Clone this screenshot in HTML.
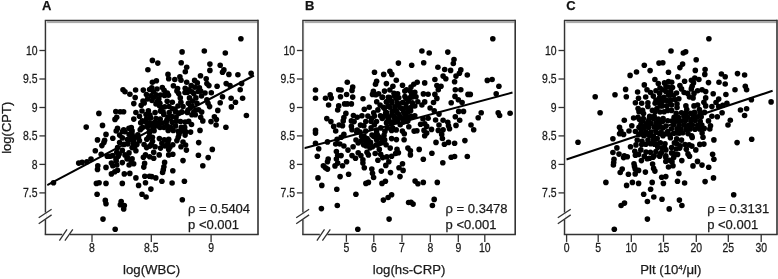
<!DOCTYPE html>
<html><head><meta charset="utf-8"><style>
html,body{margin:0;padding:0;background:#fff;}
body{width:778px;height:279px;overflow:hidden;}
svg{display:block;will-change:transform;}
text{font-family:"Liberation Sans",sans-serif;fill:#1a1a1a;stroke:#1a1a1a;stroke-width:0.25px;}
</style></head><body>
<svg width="778" height="279" viewBox="0 0 778 279">
<text x="42.0" y="10.4" font-size="13" font-weight="bold" style="fill:#111">A</text>
<line x1="47.2" y1="185.1" x2="254" y2="75.5" stroke="#000" stroke-width="2"/>
<g fill="#000"><circle cx="152.4" cy="60.4" r="2.8"/><circle cx="157.8" cy="63.1" r="2.8"/><circle cx="181.2" cy="62.7" r="2.8"/><circle cx="186.7" cy="67.2" r="2.8"/><circle cx="185.3" cy="71.7" r="2.8"/><circle cx="209.9" cy="64.1" r="2.8"/><circle cx="209.9" cy="70.4" r="2.8"/><circle cx="220.2" cy="65.2" r="2.8"/><circle cx="223.9" cy="69.9" r="2.8"/><circle cx="222.5" cy="72.3" r="2.8"/><circle cx="228.9" cy="74.4" r="2.8"/><circle cx="237.9" cy="74.7" r="2.8"/><circle cx="251.1" cy="73.3" r="2.8"/><circle cx="168.0" cy="74.4" r="2.8"/><circle cx="168.7" cy="78.8" r="2.8"/><circle cx="174.8" cy="79.5" r="2.8"/><circle cx="179.9" cy="76.8" r="2.8"/><circle cx="181.0" cy="80.2" r="2.8"/><circle cx="186.7" cy="82.2" r="2.8"/><circle cx="200.5" cy="75.8" r="2.8"/><circle cx="206.2" cy="78.8" r="2.8"/><circle cx="194.6" cy="80.4" r="2.8"/><circle cx="197.3" cy="82.9" r="2.8"/><circle cx="206.9" cy="83.6" r="2.8"/><circle cx="208.9" cy="85.6" r="2.8"/><circle cx="156.4" cy="80.8" r="2.8"/><circle cx="152.4" cy="82.2" r="2.8"/><circle cx="162.3" cy="87.5" r="2.8"/><circle cx="164.1" cy="90.3" r="2.8"/><circle cx="173.4" cy="85.8" r="2.8"/><circle cx="177.6" cy="88.5" r="2.8"/><circle cx="191.2" cy="85.6" r="2.8"/><circle cx="189.1" cy="89.7" r="2.8"/><circle cx="199.4" cy="87.7" r="2.8"/><circle cx="200.7" cy="91.1" r="2.8"/><circle cx="211.3" cy="92.7" r="2.8"/><circle cx="217.1" cy="86.3" r="2.8"/><circle cx="226.2" cy="83.6" r="2.8"/><circle cx="230.0" cy="85.6" r="2.8"/><circle cx="241.6" cy="83.6" r="2.8"/><circle cx="240.2" cy="89.7" r="2.8"/><circle cx="153.3" cy="91.8" r="2.8"/><circle cx="176.9" cy="91.1" r="2.8"/><circle cx="191.9" cy="91.7" r="2.8"/><circle cx="167.3" cy="93.1" r="2.8"/><circle cx="240.9" cy="38.7" r="2.8"/><circle cx="182.1" cy="51.9" r="2.8"/><circle cx="204.3" cy="51.0" r="2.8"/><circle cx="225.3" cy="53.0" r="2.8"/><circle cx="147.9" cy="69.7" r="2.8"/><circle cx="123.0" cy="89.7" r="2.8"/><circle cx="125.0" cy="91.7" r="2.8"/><circle cx="129.9" cy="94.2" r="2.8"/><circle cx="135.6" cy="90.0" r="2.8"/><circle cx="143.3" cy="90.1" r="2.8"/><circle cx="149.6" cy="89.5" r="2.8"/><circle cx="135.2" cy="97.6" r="2.8"/><circle cx="133.8" cy="103.6" r="2.8"/><circle cx="141.2" cy="105.3" r="2.8"/><circle cx="144.2" cy="102.9" r="2.8"/><circle cx="146.4" cy="94.5" r="2.8"/><circle cx="150.9" cy="95.7" r="2.8"/><circle cx="115.8" cy="111.6" r="2.8"/><circle cx="120.2" cy="111.8" r="2.8"/><circle cx="123.6" cy="111.8" r="2.8"/><circle cx="98.9" cy="113.4" r="2.8"/><circle cx="116.7" cy="117.2" r="2.8"/><circle cx="115.0" cy="119.4" r="2.8"/><circle cx="135.9" cy="112.5" r="2.8"/><circle cx="139.5" cy="116.3" r="2.8"/><circle cx="142.0" cy="111.0" r="2.8"/><circle cx="148.4" cy="110.9" r="2.8"/><circle cx="133.8" cy="119.1" r="2.8"/><circle cx="140.7" cy="122.8" r="2.8"/><circle cx="145.3" cy="121.8" r="2.8"/><circle cx="150.6" cy="117.9" r="2.8"/><circle cx="86.2" cy="127.1" r="2.8"/><circle cx="102.5" cy="125.4" r="2.8"/><circle cx="117.5" cy="128.4" r="2.8"/><circle cx="123.7" cy="129.8" r="2.8"/><circle cx="131.3" cy="127.5" r="2.8"/><circle cx="141.4" cy="128.4" r="2.8"/><circle cx="147.5" cy="127.1" r="2.8"/><circle cx="150.9" cy="124.3" r="2.8"/><circle cx="222.5" cy="96.8" r="2.8"/><circle cx="231.1" cy="98.2" r="2.8"/><circle cx="242.6" cy="98.2" r="2.8"/><circle cx="235.5" cy="102.3" r="2.8"/><circle cx="220.2" cy="102.8" r="2.8"/><circle cx="231.4" cy="106.9" r="2.8"/><circle cx="217.8" cy="110.4" r="2.8"/><circle cx="246.4" cy="115.5" r="2.8"/><circle cx="214.4" cy="116.8" r="2.8"/><circle cx="216.4" cy="119.6" r="2.8"/><circle cx="211.0" cy="121.6" r="2.8"/><circle cx="216.1" cy="125.0" r="2.8"/><circle cx="225.9" cy="127.3" r="2.8"/><circle cx="209.6" cy="106.6" r="2.8"/><circle cx="206.9" cy="99.8" r="2.8"/><circle cx="208.0" cy="103.2" r="2.8"/><circle cx="201.7" cy="112.1" r="2.8"/><circle cx="200.7" cy="117.3" r="2.8"/><circle cx="202.8" cy="120.9" r="2.8"/><circle cx="191.9" cy="114.8" r="2.8"/><circle cx="195.3" cy="114.8" r="2.8"/><circle cx="156.1" cy="94.7" r="2.8"/><circle cx="151.8" cy="87.7" r="2.8"/><circle cx="168.5" cy="95.2" r="2.8"/><circle cx="164.6" cy="95.4" r="2.8"/><circle cx="158.8" cy="99.0" r="2.8"/><circle cx="159.9" cy="103.3" r="2.8"/><circle cx="161.5" cy="107.6" r="2.8"/><circle cx="155.1" cy="112.6" r="2.8"/><circle cx="163.1" cy="111.9" r="2.8"/><circle cx="167.2" cy="101.3" r="2.8"/><circle cx="172.3" cy="102.2" r="2.8"/><circle cx="169.0" cy="106.5" r="2.8"/><circle cx="172.3" cy="108.7" r="2.8"/><circle cx="175.5" cy="111.9" r="2.8"/><circle cx="169.2" cy="112.5" r="2.8"/><circle cx="178.7" cy="93.6" r="2.8"/><circle cx="180.3" cy="97.9" r="2.8"/><circle cx="180.9" cy="102.2" r="2.8"/><circle cx="183.0" cy="106.5" r="2.8"/><circle cx="181.9" cy="111.9" r="2.8"/><circle cx="185.2" cy="88.2" r="2.8"/><circle cx="187.3" cy="92.5" r="2.8"/><circle cx="189.5" cy="97.9" r="2.8"/><circle cx="188.4" cy="103.3" r="2.8"/><circle cx="190.5" cy="107.6" r="2.8"/><circle cx="187.3" cy="112.4" r="2.8"/><circle cx="194.8" cy="87.2" r="2.8"/><circle cx="193.8" cy="93.6" r="2.8"/><circle cx="195.9" cy="97.9" r="2.8"/><circle cx="198.1" cy="91.5" r="2.8"/><circle cx="197.0" cy="103.3" r="2.8"/><circle cx="192.7" cy="101.1" r="2.8"/><circle cx="198.6" cy="109.7" r="2.8"/><circle cx="193.8" cy="111.9" r="2.8"/><circle cx="106.0" cy="134.4" r="2.8"/><circle cx="97.5" cy="139.9" r="2.8"/><circle cx="104.6" cy="140.2" r="2.8"/><circle cx="103.9" cy="142.6" r="2.8"/><circle cx="101.9" cy="145.6" r="2.8"/><circle cx="112.8" cy="138.3" r="2.8"/><circle cx="116.2" cy="131.0" r="2.8"/><circle cx="119.6" cy="135.1" r="2.8"/><circle cx="122.3" cy="137.9" r="2.8"/><circle cx="119.6" cy="142.6" r="2.8"/><circle cx="125.0" cy="131.7" r="2.8"/><circle cx="129.1" cy="134.4" r="2.8"/><circle cx="131.0" cy="138.9" r="2.8"/><circle cx="127.7" cy="144.0" r="2.8"/><circle cx="134.6" cy="137.2" r="2.8"/><circle cx="137.8" cy="134.7" r="2.8"/><circle cx="139.5" cy="140.7" r="2.8"/><circle cx="134.6" cy="146.7" r="2.8"/><circle cx="135.9" cy="150.8" r="2.8"/><circle cx="144.1" cy="144.5" r="2.8"/><circle cx="146.8" cy="139.2" r="2.8"/><circle cx="149.5" cy="133.1" r="2.8"/><circle cx="149.8" cy="146.1" r="2.8"/><circle cx="145.5" cy="154.9" r="2.8"/><circle cx="149.7" cy="156.8" r="2.8"/><circle cx="144.6" cy="163.4" r="2.8"/><circle cx="95.3" cy="150.8" r="2.8"/><circle cx="101.2" cy="154.2" r="2.8"/><circle cx="107.3" cy="156.2" r="2.8"/><circle cx="110.0" cy="156.2" r="2.8"/><circle cx="116.8" cy="152.2" r="2.8"/><circle cx="122.3" cy="150.4" r="2.8"/><circle cx="118.2" cy="156.2" r="2.8"/><circle cx="125.0" cy="154.9" r="2.8"/><circle cx="129.0" cy="152.9" r="2.8"/><circle cx="127.1" cy="159.0" r="2.8"/><circle cx="131.1" cy="161.0" r="2.8"/><circle cx="116.2" cy="161.0" r="2.8"/><circle cx="111.4" cy="163.1" r="2.8"/><circle cx="122.3" cy="162.6" r="2.8"/><circle cx="91.0" cy="159.0" r="2.8"/><circle cx="86.9" cy="161.7" r="2.8"/><circle cx="78.7" cy="163.1" r="2.8"/><circle cx="82.1" cy="162.4" r="2.8"/><circle cx="97.8" cy="165.8" r="2.8"/><circle cx="106.0" cy="167.4" r="2.8"/><circle cx="200.0" cy="130.4" r="2.8"/><circle cx="154.1" cy="130.8" r="2.8"/><circle cx="168.2" cy="130.4" r="2.8"/><circle cx="173.2" cy="130.4" r="2.8"/><circle cx="181.0" cy="131.3" r="2.8"/><circle cx="185.9" cy="131.7" r="2.8"/><circle cx="190.6" cy="132.1" r="2.8"/><circle cx="185.1" cy="135.1" r="2.8"/><circle cx="178.2" cy="137.2" r="2.8"/><circle cx="176.9" cy="140.6" r="2.8"/><circle cx="152.4" cy="137.2" r="2.8"/><circle cx="152.5" cy="141.2" r="2.8"/><circle cx="159.4" cy="138.6" r="2.8"/><circle cx="164.3" cy="139.9" r="2.8"/><circle cx="168.7" cy="139.2" r="2.8"/><circle cx="161.9" cy="143.3" r="2.8"/><circle cx="167.3" cy="144.7" r="2.8"/><circle cx="172.8" cy="144.7" r="2.8"/><circle cx="181.0" cy="146.7" r="2.8"/><circle cx="185.6" cy="145.0" r="2.8"/><circle cx="186.4" cy="150.1" r="2.8"/><circle cx="198.7" cy="142.6" r="2.8"/><circle cx="212.3" cy="149.4" r="2.8"/><circle cx="198.4" cy="155.2" r="2.8"/><circle cx="208.2" cy="157.6" r="2.8"/><circle cx="183.0" cy="160.6" r="2.8"/><circle cx="202.8" cy="165.8" r="2.8"/><circle cx="155.1" cy="146.7" r="2.8"/><circle cx="160.5" cy="148.1" r="2.8"/><circle cx="168.7" cy="149.4" r="2.8"/><circle cx="153.7" cy="152.2" r="2.8"/><circle cx="159.2" cy="154.9" r="2.8"/><circle cx="168.7" cy="154.9" r="2.8"/><circle cx="172.8" cy="154.2" r="2.8"/><circle cx="153.7" cy="158.3" r="2.8"/><circle cx="164.6" cy="162.4" r="2.8"/><circle cx="163.9" cy="166.8" r="2.8"/><circle cx="53.5" cy="182.7" r="2.8"/><circle cx="97.5" cy="169.4" r="2.8"/><circle cx="112.8" cy="165.7" r="2.8"/><circle cx="116.8" cy="165.0" r="2.8"/><circle cx="129.1" cy="165.0" r="2.8"/><circle cx="143.8" cy="167.1" r="2.8"/><circle cx="111.4" cy="173.9" r="2.8"/><circle cx="114.8" cy="171.8" r="2.8"/><circle cx="117.5" cy="170.2" r="2.8"/><circle cx="124.3" cy="173.9" r="2.8"/><circle cx="129.8" cy="173.4" r="2.8"/><circle cx="135.9" cy="177.9" r="2.8"/><circle cx="144.8" cy="176.2" r="2.8"/><circle cx="149.5" cy="176.2" r="2.8"/><circle cx="96.4" cy="183.4" r="2.8"/><circle cx="99.1" cy="182.7" r="2.8"/><circle cx="106.0" cy="183.4" r="2.8"/><circle cx="122.3" cy="183.4" r="2.8"/><circle cx="138.6" cy="185.4" r="2.8"/><circle cx="145.5" cy="182.7" r="2.8"/><circle cx="150.9" cy="189.1" r="2.8"/><circle cx="97.1" cy="194.3" r="2.8"/><circle cx="142.0" cy="194.3" r="2.8"/><circle cx="146.1" cy="197.0" r="2.8"/><circle cx="105.3" cy="200.4" r="2.8"/><circle cx="121.2" cy="201.6" r="2.8"/><circle cx="163.3" cy="169.8" r="2.8"/><circle cx="162.6" cy="172.5" r="2.8"/><circle cx="172.8" cy="170.7" r="2.8"/><circle cx="155.8" cy="177.9" r="2.8"/><circle cx="151.7" cy="176.6" r="2.8"/><circle cx="161.9" cy="181.3" r="2.8"/><circle cx="172.1" cy="183.0" r="2.8"/><circle cx="184.4" cy="181.3" r="2.8"/><circle cx="182.3" cy="199.7" r="2.8"/><circle cx="106.0" cy="203.7" r="2.8"/><circle cx="120.3" cy="204.8" r="2.8"/><circle cx="124.3" cy="205.5" r="2.8"/><circle cx="123.7" cy="208.9" r="2.8"/><circle cx="103.0" cy="219.1" r="2.8"/><circle cx="115.2" cy="229.3" r="2.8"/><circle cx="154.1" cy="97.2" r="2.8"/><circle cx="157.3" cy="101.5" r="2.8"/><circle cx="159.5" cy="105.8" r="2.8"/><circle cx="164.8" cy="106.8" r="2.8"/><circle cx="142.3" cy="120.8" r="2.8"/><circle cx="146.6" cy="118.7" r="2.8"/><circle cx="160.5" cy="111.1" r="2.8"/><circle cx="163.8" cy="114.4" r="2.8"/><circle cx="154.5" cy="122.5" r="2.8"/><circle cx="160.2" cy="119.1" r="2.8"/><circle cx="167.0" cy="119.7" r="2.8"/><circle cx="147.6" cy="124.0" r="2.8"/><circle cx="162.6" cy="123.0" r="2.8"/><circle cx="149.5" cy="122.9" r="2.8"/><circle cx="158.4" cy="122.8" r="2.8"/><circle cx="166.2" cy="121.9" r="2.8"/><circle cx="172.2" cy="122.3" r="2.8"/><circle cx="176.6" cy="121.2" r="2.8"/><circle cx="180.5" cy="121.5" r="2.8"/><circle cx="185.1" cy="122.1" r="2.8"/><circle cx="188.7" cy="121.4" r="2.8"/><circle cx="142.8" cy="127.3" r="2.8"/><circle cx="152.4" cy="125.8" r="2.8"/><circle cx="157.0" cy="125.8" r="2.8"/><circle cx="167.2" cy="125.8" r="2.8"/><circle cx="170.7" cy="127.2" r="2.8"/><circle cx="175.5" cy="125.9" r="2.8"/><circle cx="181.3" cy="127.2" r="2.8"/><circle cx="184.7" cy="127.4" r="2.8"/><circle cx="132.1" cy="130.9" r="2.8"/><circle cx="149.5" cy="131.4" r="2.8"/><circle cx="178.3" cy="131.4" r="2.8"/><circle cx="184.1" cy="130.1" r="2.8"/><circle cx="131.5" cy="133.0" r="2.8"/><circle cx="148.6" cy="137.4" r="2.8"/><circle cx="168.0" cy="142.0" r="2.8"/><circle cx="165.0" cy="146.0" r="2.8"/><circle cx="170.0" cy="147.0" r="2.8"/><circle cx="183.0" cy="142.0" r="2.8"/><circle cx="133.0" cy="143.0" r="2.8"/><circle cx="146.0" cy="114.5" r="2.8"/><circle cx="150.0" cy="115.0" r="2.8"/><circle cx="156.0" cy="118.5" r="2.8"/><circle cx="168.0" cy="117.0" r="2.8"/><circle cx="172.0" cy="116.5" r="2.8"/><circle cx="176.0" cy="117.5" r="2.8"/><circle cx="178.5" cy="113.0" r="2.8"/><circle cx="175.0" cy="109.0" r="2.8"/><circle cx="178.0" cy="106.0" r="2.8"/><circle cx="160.0" cy="127.5" r="2.8"/><circle cx="164.0" cy="127.5" r="2.8"/><circle cx="179.0" cy="134.5" r="2.8"/><circle cx="191.5" cy="124.5" r="2.8"/><circle cx="122.4" cy="131.5" r="2.8"/><circle cx="128.9" cy="128.2" r="2.8"/><circle cx="132.1" cy="134.7" r="2.8"/><circle cx="127.3" cy="139.5" r="2.8"/><circle cx="133.7" cy="141.1" r="2.8"/><circle cx="124.0" cy="144.4" r="2.8"/><circle cx="132.1" cy="147.6" r="2.8"/><circle cx="119.2" cy="154.0" r="2.8"/><circle cx="127.3" cy="157.3" r="2.8"/><circle cx="132.1" cy="158.9" r="2.8"/><circle cx="116.0" cy="158.9" r="2.8"/><circle cx="133.7" cy="163.7" r="2.8"/><circle cx="138.5" cy="137.9" r="2.8"/><circle cx="136.9" cy="144.4" r="2.8"/><circle cx="112.7" cy="155.6" r="2.8"/><circle cx="117.6" cy="147.6" r="2.8"/><circle cx="140.2" cy="129.8" r="2.8"/><circle cx="151.5" cy="144.4" r="2.8"/><circle cx="146.6" cy="147.6" r="2.8"/><circle cx="143.4" cy="157.3" r="2.8"/><circle cx="153.0" cy="128.2" r="2.8"/><circle cx="143.0" cy="101.0" r="2.8"/><circle cx="147.5" cy="99.0" r="2.8"/><circle cx="156.0" cy="104.0" r="2.8"/><circle cx="152.0" cy="100.5" r="2.8"/><circle cx="160.5" cy="95.0" r="2.8"/><circle cx="157.0" cy="89.0" r="2.8"/><circle cx="185.0" cy="92.5" r="2.8"/><circle cx="192.0" cy="106.0" r="2.8"/><circle cx="196.0" cy="110.0" r="2.8"/><circle cx="188.0" cy="110.0" r="2.8"/><circle cx="205.0" cy="93.0" r="2.8"/><circle cx="201.5" cy="96.0" r="2.8"/></g>
<rect x="46.1" y="20.9" width="211.1" height="2.2" fill="#aaa"/>
<rect x="46.1" y="21.2" width="1.0" height="212.4" fill="#eee"/>
<path d="M44.8 20.3 H258.2" fill="none" stroke="#333" stroke-width="1.2"/>
<path d="M258.0 19.7 V234.4" fill="none" stroke="#333" stroke-width="1.6"/>
<path d="M45.4 20.5 V212.6" fill="none" stroke="#333" stroke-width="1.4"/>
<path d="M45.4 219.4 V234.4" fill="none" stroke="#333" stroke-width="1.4"/>
<path d="M38.7 217.8 L51.6 209.3 M38.7 223.8 L51.6 214.9" fill="none" stroke="#333" stroke-width="1.3"/>
<path d="M44.7 234.4 H62.3 M69.8 234.4 H258.7" fill="none" stroke="#333" stroke-width="1.5"/>
<path d="M59.4 240.7 L67.0 229.4 M64.9 240.7 L72.8 229.4" fill="none" stroke="#333" stroke-width="1.3"/>
<path d="M39.4 50.5 H45.4" stroke="#333" stroke-width="1.3"/>
<text transform="translate(37.5,54.7) scale(0.87,1)" font-size="12" text-anchor="end">10</text>
<path d="M39.4 79.0 H45.4" stroke="#333" stroke-width="1.3"/>
<text transform="translate(37.5,83.2) scale(0.87,1)" font-size="12" text-anchor="end">9.5</text>
<path d="M39.4 107.5 H45.4" stroke="#333" stroke-width="1.3"/>
<text transform="translate(37.5,111.7) scale(0.87,1)" font-size="12" text-anchor="end">9</text>
<path d="M39.4 135.9 H45.4" stroke="#333" stroke-width="1.3"/>
<text transform="translate(37.5,140.1) scale(0.87,1)" font-size="12" text-anchor="end">8.5</text>
<path d="M39.4 164.4 H45.4" stroke="#333" stroke-width="1.3"/>
<text transform="translate(37.5,168.6) scale(0.87,1)" font-size="12" text-anchor="end">8</text>
<path d="M39.4 192.9 H45.4" stroke="#333" stroke-width="1.3"/>
<text transform="translate(37.5,197.1) scale(0.87,1)" font-size="12" text-anchor="end">7.5</text>
<path d="M92.0 234.4 V241.9" stroke="#333" stroke-width="1.3"/>
<text transform="translate(92.0,252.0) scale(0.87,1)" font-size="12" text-anchor="middle">8</text>
<path d="M151.3 234.4 V241.9" stroke="#333" stroke-width="1.3"/>
<text transform="translate(151.3,252.0) scale(0.87,1)" font-size="12" text-anchor="middle">8.5</text>
<path d="M211.1 234.4 V241.9" stroke="#333" stroke-width="1.3"/>
<text transform="translate(211.1,252.0) scale(0.87,1)" font-size="12" text-anchor="middle">9</text>
<text x="151.7" y="273.8" font-size="13.2" text-anchor="middle">log(WBC)</text>
<text x="188.1" y="213.3" font-size="13">ρ = 0.5404</text>
<text x="188.1" y="228.6" font-size="13">p &lt;0.001</text>
<text x="304.9" y="10.4" font-size="13" font-weight="bold" style="fill:#111">B</text>
<line x1="304" y1="148.2" x2="512.5" y2="92.5" stroke="#000" stroke-width="2"/>
<g fill="#000"><circle cx="492.8" cy="38.7" r="2.8"/><circle cx="421.9" cy="51.0" r="2.8"/><circle cx="429.2" cy="53.0" r="2.8"/><circle cx="447.8" cy="52.1" r="2.8"/><circle cx="454.0" cy="59.5" r="2.8"/><circle cx="398.4" cy="63.1" r="2.8"/><circle cx="374.5" cy="72.3" r="2.8"/><circle cx="383.7" cy="74.4" r="2.8"/><circle cx="389.9" cy="71.3" r="2.8"/><circle cx="391.8" cy="74.4" r="2.8"/><circle cx="396.3" cy="80.2" r="2.8"/><circle cx="376.6" cy="81.3" r="2.8"/><circle cx="375.5" cy="84.2" r="2.8"/><circle cx="386.4" cy="83.6" r="2.8"/><circle cx="392.9" cy="86.3" r="2.8"/><circle cx="402.5" cy="85.3" r="2.8"/><circle cx="406.5" cy="89.7" r="2.8"/><circle cx="373.4" cy="91.3" r="2.8"/><circle cx="384.5" cy="91.1" r="2.8"/><circle cx="389.9" cy="90.0" r="2.8"/><circle cx="397.6" cy="93.7" r="2.8"/><circle cx="347.3" cy="82.2" r="2.8"/><circle cx="352.7" cy="87.0" r="2.8"/><circle cx="352.0" cy="90.4" r="2.8"/><circle cx="338.7" cy="89.7" r="2.8"/><circle cx="341.1" cy="90.0" r="2.8"/><circle cx="315.5" cy="90.0" r="2.8"/><circle cx="346.6" cy="94.5" r="2.8"/><circle cx="330.2" cy="94.9" r="2.8"/><circle cx="378.6" cy="93.7" r="2.8"/><circle cx="411.7" cy="65.2" r="2.8"/><circle cx="423.7" cy="62.7" r="2.8"/><circle cx="453.3" cy="63.5" r="2.8"/><circle cx="437.9" cy="67.2" r="2.8"/><circle cx="444.7" cy="69.5" r="2.8"/><circle cx="450.6" cy="70.4" r="2.8"/><circle cx="460.8" cy="69.9" r="2.8"/><circle cx="459.4" cy="73.3" r="2.8"/><circle cx="456.0" cy="76.1" r="2.8"/><circle cx="467.3" cy="75.0" r="2.8"/><circle cx="443.1" cy="76.1" r="2.8"/><circle cx="445.8" cy="78.8" r="2.8"/><circle cx="434.9" cy="79.5" r="2.8"/><circle cx="454.6" cy="81.8" r="2.8"/><circle cx="424.7" cy="82.9" r="2.8"/><circle cx="417.2" cy="82.2" r="2.8"/><circle cx="413.8" cy="84.2" r="2.8"/><circle cx="411.0" cy="87.0" r="2.8"/><circle cx="436.9" cy="85.6" r="2.8"/><circle cx="441.0" cy="86.3" r="2.8"/><circle cx="438.3" cy="89.7" r="2.8"/><circle cx="455.3" cy="89.7" r="2.8"/><circle cx="460.8" cy="89.7" r="2.8"/><circle cx="487.3" cy="80.4" r="2.8"/><circle cx="492.1" cy="79.5" r="2.8"/><circle cx="498.9" cy="86.3" r="2.8"/><circle cx="414.8" cy="92.3" r="2.8"/><circle cx="423.4" cy="93.9" r="2.8"/><circle cx="428.1" cy="94.2" r="2.8"/><circle cx="468.0" cy="94.4" r="2.8"/><circle cx="496.2" cy="93.8" r="2.8"/><circle cx="315.5" cy="98.2" r="2.8"/><circle cx="325.5" cy="98.2" r="2.8"/><circle cx="331.2" cy="98.1" r="2.8"/><circle cx="340.5" cy="96.8" r="2.8"/><circle cx="352.7" cy="97.1" r="2.8"/><circle cx="363.0" cy="98.7" r="2.8"/><circle cx="328.6" cy="105.0" r="2.8"/><circle cx="338.7" cy="105.9" r="2.8"/><circle cx="337.7" cy="110.0" r="2.8"/><circle cx="344.6" cy="103.9" r="2.8"/><circle cx="347.3" cy="103.9" r="2.8"/><circle cx="351.4" cy="103.9" r="2.8"/><circle cx="345.9" cy="113.4" r="2.8"/><circle cx="343.9" cy="117.5" r="2.8"/><circle cx="343.2" cy="120.9" r="2.8"/><circle cx="353.4" cy="115.5" r="2.8"/><circle cx="351.4" cy="120.9" r="2.8"/><circle cx="354.1" cy="121.6" r="2.8"/><circle cx="326.8" cy="118.6" r="2.8"/><circle cx="330.9" cy="121.6" r="2.8"/><circle cx="333.7" cy="126.4" r="2.8"/><circle cx="339.1" cy="125.0" r="2.8"/><circle cx="342.5" cy="125.7" r="2.8"/><circle cx="351.4" cy="126.4" r="2.8"/><circle cx="360.5" cy="125.1" r="2.8"/><circle cx="363.9" cy="125.8" r="2.8"/><circle cx="315.5" cy="130.4" r="2.8"/><circle cx="361.9" cy="115.8" r="2.8"/><circle cx="364.3" cy="109.3" r="2.8"/><circle cx="369.2" cy="107.2" r="2.8"/><circle cx="373.7" cy="112.7" r="2.8"/><circle cx="376.7" cy="101.8" r="2.8"/><circle cx="372.5" cy="94.4" r="2.8"/><circle cx="375.8" cy="94.8" r="2.8"/><circle cx="394.0" cy="93.2" r="2.8"/><circle cx="404.8" cy="91.1" r="2.8"/><circle cx="410.2" cy="91.1" r="2.8"/><circle cx="416.0" cy="96.8" r="2.8"/><circle cx="382.2" cy="97.5" r="2.8"/><circle cx="389.7" cy="97.5" r="2.8"/><circle cx="396.2" cy="98.6" r="2.8"/><circle cx="405.9" cy="98.6" r="2.8"/><circle cx="410.2" cy="97.5" r="2.8"/><circle cx="380.1" cy="105.1" r="2.8"/><circle cx="386.5" cy="101.8" r="2.8"/><circle cx="391.9" cy="102.9" r="2.8"/><circle cx="398.3" cy="105.1" r="2.8"/><circle cx="405.9" cy="104.0" r="2.8"/><circle cx="412.3" cy="102.9" r="2.8"/><circle cx="417.8" cy="101.7" r="2.8"/><circle cx="421.9" cy="105.0" r="2.8"/><circle cx="377.9" cy="109.9" r="2.8"/><circle cx="384.4" cy="108.3" r="2.8"/><circle cx="389.7" cy="107.2" r="2.8"/><circle cx="395.1" cy="109.4" r="2.8"/><circle cx="401.6" cy="108.3" r="2.8"/><circle cx="408.0" cy="108.3" r="2.8"/><circle cx="414.8" cy="106.0" r="2.8"/><circle cx="380.5" cy="115.7" r="2.8"/><circle cx="386.5" cy="112.6" r="2.8"/><circle cx="391.9" cy="114.7" r="2.8"/><circle cx="398.3" cy="113.7" r="2.8"/><circle cx="404.8" cy="113.7" r="2.8"/><circle cx="410.6" cy="110.8" r="2.8"/><circle cx="414.8" cy="115.7" r="2.8"/><circle cx="371.5" cy="118.5" r="2.8"/><circle cx="382.2" cy="118.5" r="2.8"/><circle cx="388.7" cy="119.0" r="2.8"/><circle cx="396.2" cy="118.5" r="2.8"/><circle cx="402.6" cy="118.5" r="2.8"/><circle cx="409.1" cy="118.0" r="2.8"/><circle cx="423.0" cy="119.0" r="2.8"/><circle cx="411.7" cy="94.4" r="2.8"/><circle cx="434.9" cy="94.4" r="2.8"/><circle cx="436.9" cy="98.4" r="2.8"/><circle cx="424.7" cy="101.9" r="2.8"/><circle cx="433.5" cy="102.5" r="2.8"/><circle cx="430.1" cy="108.0" r="2.8"/><circle cx="434.2" cy="110.7" r="2.8"/><circle cx="455.0" cy="96.4" r="2.8"/><circle cx="458.3" cy="99.8" r="2.8"/><circle cx="462.1" cy="102.5" r="2.8"/><circle cx="451.2" cy="102.8" r="2.8"/><circle cx="470.3" cy="94.4" r="2.8"/><circle cx="458.7" cy="111.4" r="2.8"/><circle cx="463.5" cy="111.4" r="2.8"/><circle cx="455.3" cy="116.8" r="2.8"/><circle cx="459.7" cy="120.2" r="2.8"/><circle cx="481.2" cy="112.8" r="2.8"/><circle cx="478.2" cy="117.8" r="2.8"/><circle cx="498.2" cy="112.8" r="2.8"/><circle cx="499.6" cy="115.5" r="2.8"/><circle cx="510.1" cy="113.2" r="2.8"/><circle cx="411.2" cy="116.7" r="2.8"/><circle cx="439.0" cy="114.1" r="2.8"/><circle cx="428.1" cy="118.2" r="2.8"/><circle cx="435.6" cy="120.0" r="2.8"/><circle cx="443.1" cy="120.2" r="2.8"/><circle cx="447.8" cy="122.3" r="2.8"/><circle cx="420.6" cy="124.3" r="2.8"/><circle cx="424.7" cy="123.7" r="2.8"/><circle cx="426.7" cy="126.4" r="2.8"/><circle cx="439.0" cy="125.0" r="2.8"/><circle cx="448.5" cy="125.7" r="2.8"/><circle cx="456.0" cy="125.4" r="2.8"/><circle cx="471.0" cy="125.0" r="2.8"/><circle cx="473.7" cy="129.8" r="2.8"/><circle cx="431.5" cy="129.4" r="2.8"/><circle cx="416.9" cy="130.8" r="2.8"/><circle cx="443.1" cy="129.8" r="2.8"/><circle cx="449.5" cy="128.7" r="2.8"/><circle cx="315.5" cy="133.1" r="2.8"/><circle cx="335.7" cy="131.0" r="2.8"/><circle cx="343.9" cy="134.4" r="2.8"/><circle cx="341.1" cy="137.2" r="2.8"/><circle cx="337.1" cy="139.2" r="2.8"/><circle cx="335.7" cy="144.0" r="2.8"/><circle cx="339.8" cy="144.0" r="2.8"/><circle cx="343.9" cy="146.0" r="2.8"/><circle cx="327.5" cy="141.9" r="2.8"/><circle cx="315.5" cy="143.3" r="2.8"/><circle cx="318.7" cy="148.8" r="2.8"/><circle cx="317.3" cy="156.2" r="2.8"/><circle cx="328.2" cy="159.0" r="2.8"/><circle cx="327.5" cy="161.7" r="2.8"/><circle cx="336.4" cy="151.5" r="2.8"/><circle cx="337.7" cy="155.6" r="2.8"/><circle cx="341.1" cy="155.6" r="2.8"/><circle cx="336.4" cy="159.0" r="2.8"/><circle cx="337.7" cy="163.1" r="2.8"/><circle cx="346.6" cy="161.7" r="2.8"/><circle cx="348.0" cy="150.1" r="2.8"/><circle cx="353.1" cy="146.7" r="2.8"/><circle cx="352.0" cy="155.6" r="2.8"/><circle cx="355.5" cy="158.3" r="2.8"/><circle cx="358.2" cy="152.8" r="2.8"/><circle cx="360.9" cy="155.6" r="2.8"/><circle cx="362.9" cy="159.7" r="2.8"/><circle cx="362.9" cy="163.1" r="2.8"/><circle cx="352.0" cy="129.7" r="2.8"/><circle cx="356.8" cy="132.3" r="2.8"/><circle cx="361.6" cy="136.2" r="2.8"/><circle cx="362.9" cy="139.2" r="2.8"/><circle cx="367.0" cy="138.5" r="2.8"/><circle cx="363.6" cy="144.7" r="2.8"/><circle cx="367.7" cy="144.0" r="2.8"/><circle cx="370.5" cy="142.4" r="2.8"/><circle cx="373.8" cy="136.5" r="2.8"/><circle cx="376.6" cy="132.4" r="2.8"/><circle cx="379.3" cy="137.2" r="2.8"/><circle cx="372.5" cy="146.7" r="2.8"/><circle cx="377.3" cy="144.7" r="2.8"/><circle cx="379.3" cy="149.4" r="2.8"/><circle cx="382.0" cy="142.6" r="2.8"/><circle cx="384.7" cy="139.9" r="2.8"/><circle cx="386.1" cy="144.7" r="2.8"/><circle cx="367.0" cy="152.2" r="2.8"/><circle cx="368.4" cy="154.9" r="2.8"/><circle cx="375.2" cy="153.5" r="2.8"/><circle cx="380.7" cy="154.2" r="2.8"/><circle cx="377.9" cy="160.3" r="2.8"/><circle cx="382.7" cy="157.6" r="2.8"/><circle cx="386.8" cy="156.9" r="2.8"/><circle cx="388.8" cy="161.7" r="2.8"/><circle cx="391.6" cy="156.2" r="2.8"/><circle cx="385.8" cy="165.4" r="2.8"/><circle cx="390.2" cy="148.1" r="2.8"/><circle cx="397.0" cy="149.4" r="2.8"/><circle cx="398.4" cy="152.8" r="2.8"/><circle cx="395.6" cy="153.5" r="2.8"/><circle cx="391.6" cy="138.6" r="2.8"/><circle cx="396.4" cy="139.6" r="2.8"/><circle cx="404.1" cy="139.8" r="2.8"/><circle cx="402.4" cy="131.1" r="2.8"/><circle cx="404.3" cy="133.8" r="2.8"/><circle cx="391.6" cy="130.4" r="2.8"/><circle cx="396.2" cy="129.9" r="2.8"/><circle cx="384.9" cy="131.4" r="2.8"/><circle cx="407.9" cy="148.1" r="2.8"/><circle cx="402.5" cy="163.7" r="2.8"/><circle cx="323.4" cy="165.8" r="2.8"/><circle cx="335.0" cy="165.9" r="2.8"/><circle cx="424.0" cy="130.4" r="2.8"/><circle cx="426.7" cy="133.1" r="2.8"/><circle cx="424.7" cy="135.8" r="2.8"/><circle cx="438.3" cy="130.4" r="2.8"/><circle cx="441.7" cy="134.4" r="2.8"/><circle cx="442.4" cy="138.5" r="2.8"/><circle cx="436.0" cy="142.4" r="2.8"/><circle cx="444.4" cy="144.3" r="2.8"/><circle cx="448.5" cy="142.4" r="2.8"/><circle cx="454.6" cy="143.3" r="2.8"/><circle cx="464.9" cy="140.6" r="2.8"/><circle cx="410.4" cy="150.8" r="2.8"/><circle cx="410.4" cy="154.9" r="2.8"/><circle cx="419.2" cy="149.4" r="2.8"/><circle cx="431.9" cy="153.3" r="2.8"/><circle cx="423.3" cy="159.2" r="2.8"/><circle cx="451.2" cy="157.3" r="2.8"/><circle cx="454.6" cy="156.5" r="2.8"/><circle cx="467.3" cy="156.5" r="2.8"/><circle cx="442.8" cy="162.8" r="2.8"/><circle cx="325.5" cy="167.7" r="2.8"/><circle cx="327.5" cy="169.1" r="2.8"/><circle cx="342.5" cy="165.7" r="2.8"/><circle cx="364.3" cy="167.7" r="2.8"/><circle cx="371.8" cy="169.1" r="2.8"/><circle cx="372.5" cy="173.2" r="2.8"/><circle cx="373.6" cy="177.5" r="2.8"/><circle cx="381.3" cy="171.1" r="2.8"/><circle cx="390.5" cy="172.6" r="2.8"/><circle cx="399.0" cy="167.7" r="2.8"/><circle cx="403.1" cy="170.4" r="2.8"/><circle cx="400.0" cy="176.6" r="2.8"/><circle cx="318.0" cy="177.9" r="2.8"/><circle cx="340.1" cy="176.6" r="2.8"/><circle cx="348.6" cy="174.3" r="2.8"/><circle cx="321.8" cy="185.4" r="2.8"/><circle cx="336.8" cy="189.3" r="2.8"/><circle cx="365.9" cy="183.4" r="2.8"/><circle cx="368.4" cy="182.4" r="2.8"/><circle cx="382.0" cy="183.4" r="2.8"/><circle cx="385.4" cy="181.3" r="2.8"/><circle cx="355.9" cy="194.3" r="2.8"/><circle cx="388.1" cy="197.5" r="2.8"/><circle cx="391.6" cy="194.7" r="2.8"/><circle cx="383.4" cy="200.1" r="2.8"/><circle cx="408.6" cy="202.5" r="2.8"/><circle cx="415.1" cy="181.1" r="2.8"/><circle cx="417.9" cy="183.8" r="2.8"/><circle cx="423.3" cy="182.4" r="2.8"/><circle cx="437.3" cy="182.4" r="2.8"/><circle cx="434.2" cy="199.4" r="2.8"/><circle cx="411.0" cy="202.3" r="2.8"/><circle cx="321.4" cy="208.6" r="2.8"/><circle cx="337.3" cy="205.5" r="2.8"/><circle cx="389.1" cy="219.1" r="2.8"/><circle cx="357.8" cy="229.3" r="2.8"/><circle cx="413.1" cy="204.1" r="2.8"/><circle cx="432.4" cy="205.5" r="2.8"/><circle cx="357.2" cy="117.2" r="2.8"/><circle cx="367.9" cy="116.1" r="2.8"/><circle cx="374.4" cy="116.1" r="2.8"/><circle cx="387.3" cy="116.6" r="2.8"/><circle cx="393.7" cy="116.1" r="2.8"/><circle cx="400.2" cy="116.6" r="2.8"/><circle cx="406.6" cy="116.1" r="2.8"/><circle cx="365.8" cy="121.5" r="2.8"/><circle cx="371.1" cy="121.5" r="2.8"/><circle cx="374.4" cy="124.7" r="2.8"/><circle cx="376.5" cy="121.5" r="2.8"/><circle cx="387.3" cy="121.5" r="2.8"/><circle cx="391.6" cy="123.6" r="2.8"/><circle cx="395.9" cy="121.5" r="2.8"/><circle cx="400.2" cy="124.7" r="2.8"/><circle cx="405.5" cy="121.5" r="2.8"/><circle cx="408.8" cy="126.8" r="2.8"/><circle cx="357.2" cy="130.1" r="2.8"/><circle cx="365.8" cy="131.1" r="2.8"/><circle cx="371.1" cy="127.9" r="2.8"/><circle cx="376.5" cy="130.1" r="2.8"/><circle cx="380.8" cy="127.9" r="2.8"/><circle cx="387.3" cy="127.9" r="2.8"/><circle cx="392.6" cy="127.9" r="2.8"/><circle cx="414.1" cy="131.1" r="2.8"/><circle cx="365.8" cy="140.8" r="2.8"/><circle cx="377.6" cy="135.4" r="2.8"/><circle cx="376.5" cy="139.7" r="2.8"/><circle cx="381.9" cy="139.7" r="2.8"/><circle cx="384.0" cy="135.4" r="2.8"/><circle cx="379.7" cy="143.5" r="2.8"/><circle cx="358.2" cy="143.0" r="2.8"/><circle cx="360.0" cy="132.0" r="2.8"/><circle cx="364.0" cy="136.0" r="2.8"/><circle cx="368.0" cy="140.0" r="2.8"/><circle cx="372.0" cy="135.0" r="2.8"/><circle cx="366.0" cy="146.0" r="2.8"/><circle cx="370.0" cy="148.0" r="2.8"/><circle cx="376.0" cy="145.0" r="2.8"/><circle cx="361.0" cy="141.0" r="2.8"/><circle cx="356.0" cy="140.0" r="2.8"/><circle cx="382.5" cy="97.1" r="2.8"/><circle cx="388.3" cy="97.2" r="2.8"/><circle cx="394.5" cy="96.1" r="2.8"/><circle cx="398.8" cy="97.7" r="2.8"/><circle cx="404.9" cy="96.5" r="2.8"/><circle cx="412.0" cy="96.9" r="2.8"/><circle cx="386.5" cy="102.0" r="2.8"/><circle cx="391.7" cy="101.3" r="2.8"/><circle cx="397.3" cy="102.7" r="2.8"/><circle cx="402.6" cy="102.5" r="2.8"/><circle cx="408.5" cy="101.1" r="2.8"/><circle cx="383.5" cy="107.2" r="2.8"/><circle cx="388.2" cy="106.1" r="2.8"/><circle cx="394.9" cy="106.9" r="2.8"/><circle cx="400.2" cy="107.8" r="2.8"/><circle cx="405.8" cy="107.8" r="2.8"/><circle cx="410.8" cy="107.6" r="2.8"/><circle cx="385.7" cy="112.9" r="2.8"/><circle cx="392.2" cy="111.2" r="2.8"/><circle cx="396.3" cy="111.4" r="2.8"/><circle cx="403.5" cy="111.9" r="2.8"/><circle cx="408.5" cy="111.6" r="2.8"/><circle cx="383.0" cy="116.8" r="2.8"/><circle cx="388.3" cy="117.2" r="2.8"/><circle cx="394.4" cy="117.8" r="2.8"/><circle cx="400.2" cy="117.9" r="2.8"/><circle cx="406.1" cy="118.0" r="2.8"/><circle cx="411.3" cy="116.3" r="2.8"/><circle cx="386.5" cy="122.9" r="2.8"/><circle cx="392.2" cy="122.1" r="2.8"/><circle cx="397.4" cy="121.4" r="2.8"/><circle cx="403.3" cy="122.1" r="2.8"/><circle cx="407.8" cy="121.1" r="2.8"/></g>
<rect x="303.6" y="20.9" width="210.8" height="2.2" fill="#aaa"/>
<rect x="303.6" y="21.2" width="1.0" height="212.4" fill="#eee"/>
<path d="M302.3 20.3 H515.4" fill="none" stroke="#333" stroke-width="1.2"/>
<path d="M515.2 19.7 V234.4" fill="none" stroke="#333" stroke-width="1.6"/>
<path d="M302.9 20.5 V212.6" fill="none" stroke="#333" stroke-width="1.4"/>
<path d="M302.9 219.4 V234.4" fill="none" stroke="#333" stroke-width="1.4"/>
<path d="M296.2 217.8 L309.1 209.3 M296.2 223.8 L309.1 214.9" fill="none" stroke="#333" stroke-width="1.3"/>
<path d="M302.2 234.4 H319.8 M327.3 234.4 H515.9" fill="none" stroke="#333" stroke-width="1.5"/>
<path d="M316.9 240.7 L324.5 229.4 M322.4 240.7 L330.3 229.4" fill="none" stroke="#333" stroke-width="1.3"/>
<path d="M296.9 50.5 H302.9" stroke="#333" stroke-width="1.3"/>
<text transform="translate(295.0,54.7) scale(0.87,1)" font-size="12" text-anchor="end">10</text>
<path d="M296.9 79.0 H302.9" stroke="#333" stroke-width="1.3"/>
<text transform="translate(295.0,83.2) scale(0.87,1)" font-size="12" text-anchor="end">9.5</text>
<path d="M296.9 107.5 H302.9" stroke="#333" stroke-width="1.3"/>
<text transform="translate(295.0,111.7) scale(0.87,1)" font-size="12" text-anchor="end">9</text>
<path d="M296.9 135.9 H302.9" stroke="#333" stroke-width="1.3"/>
<text transform="translate(295.0,140.1) scale(0.87,1)" font-size="12" text-anchor="end">8.5</text>
<path d="M296.9 164.4 H302.9" stroke="#333" stroke-width="1.3"/>
<text transform="translate(295.0,168.6) scale(0.87,1)" font-size="12" text-anchor="end">8</text>
<path d="M296.9 192.9 H302.9" stroke="#333" stroke-width="1.3"/>
<text transform="translate(295.0,197.1) scale(0.87,1)" font-size="12" text-anchor="end">7.5</text>
<path d="M346.4 234.4 V241.9" stroke="#333" stroke-width="1.3"/>
<text transform="translate(346.4,252.0) scale(0.87,1)" font-size="12" text-anchor="middle">5</text>
<path d="M373.8 234.4 V241.9" stroke="#333" stroke-width="1.3"/>
<text transform="translate(373.8,252.0) scale(0.87,1)" font-size="12" text-anchor="middle">6</text>
<path d="M402.0 234.4 V241.9" stroke="#333" stroke-width="1.3"/>
<text transform="translate(402.0,252.0) scale(0.87,1)" font-size="12" text-anchor="middle">7</text>
<path d="M430.3 234.4 V241.9" stroke="#333" stroke-width="1.3"/>
<text transform="translate(430.3,252.0) scale(0.87,1)" font-size="12" text-anchor="middle">8</text>
<path d="M458.3 234.4 V241.9" stroke="#333" stroke-width="1.3"/>
<text transform="translate(458.3,252.0) scale(0.87,1)" font-size="12" text-anchor="middle">9</text>
<path d="M484.8 234.4 V241.9" stroke="#333" stroke-width="1.3"/>
<text transform="translate(484.8,252.0) scale(0.87,1)" font-size="12" text-anchor="middle">10</text>
<text x="409.1" y="273.8" font-size="13.2" text-anchor="middle">log(hs-CRP)</text>
<text x="445.6" y="213.3" font-size="13">ρ = 0.3478</text>
<text x="445.6" y="228.6" font-size="13">p &lt;0.001</text>
<text x="566.3" y="10.4" font-size="13" font-weight="bold" style="fill:#111">C</text>
<line x1="566.4" y1="159.5" x2="772.6" y2="90.8" stroke="#000" stroke-width="2"/>
<g fill="#000"><circle cx="708.9" cy="38.7" r="2.8"/><circle cx="671.0" cy="51.0" r="2.8"/><circle cx="683.3" cy="53.0" r="2.8"/><circle cx="685.7" cy="51.7" r="2.8"/><circle cx="696.2" cy="59.7" r="2.8"/><circle cx="644.3" cy="65.2" r="2.8"/><circle cx="659.0" cy="63.1" r="2.8"/><circle cx="662.8" cy="62.7" r="2.8"/><circle cx="636.5" cy="72.0" r="2.8"/><circle cx="630.1" cy="75.4" r="2.8"/><circle cx="650.1" cy="70.6" r="2.8"/><circle cx="668.5" cy="72.3" r="2.8"/><circle cx="654.9" cy="79.5" r="2.8"/><circle cx="658.3" cy="83.6" r="2.8"/><circle cx="644.3" cy="84.9" r="2.8"/><circle cx="625.6" cy="89.4" r="2.8"/><circle cx="615.0" cy="94.8" r="2.8"/><circle cx="664.5" cy="82.9" r="2.8"/><circle cx="668.5" cy="81.5" r="2.8"/><circle cx="668.5" cy="87.0" r="2.8"/><circle cx="682.6" cy="64.1" r="2.8"/><circle cx="679.9" cy="67.6" r="2.8"/><circle cx="695.3" cy="70.4" r="2.8"/><circle cx="705.1" cy="69.5" r="2.8"/><circle cx="704.8" cy="74.4" r="2.8"/><circle cx="721.4" cy="74.0" r="2.8"/><circle cx="725.2" cy="76.8" r="2.8"/><circle cx="737.5" cy="73.6" r="2.8"/><circle cx="744.6" cy="75.0" r="2.8"/><circle cx="677.8" cy="76.8" r="2.8"/><circle cx="684.6" cy="81.3" r="2.8"/><circle cx="691.4" cy="80.2" r="2.8"/><circle cx="694.8" cy="78.1" r="2.8"/><circle cx="698.9" cy="79.5" r="2.8"/><circle cx="693.5" cy="82.9" r="2.8"/><circle cx="692.1" cy="86.3" r="2.8"/><circle cx="708.5" cy="82.6" r="2.8"/><circle cx="719.0" cy="82.2" r="2.8"/><circle cx="725.2" cy="84.0" r="2.8"/><circle cx="745.3" cy="86.3" r="2.8"/><circle cx="746.6" cy="89.7" r="2.8"/><circle cx="735.0" cy="89.7" r="2.8"/><circle cx="671.7" cy="82.2" r="2.8"/><circle cx="672.5" cy="87.5" r="2.8"/><circle cx="679.9" cy="85.6" r="2.8"/><circle cx="713.2" cy="93.8" r="2.8"/><circle cx="725.9" cy="94.5" r="2.8"/><circle cx="578.0" cy="142.3" r="2.8"/><circle cx="612.9" cy="138.8" r="2.8"/><circle cx="619.6" cy="133.8" r="2.8"/><circle cx="620.9" cy="131.0" r="2.8"/><circle cx="623.6" cy="134.4" r="2.8"/><circle cx="629.0" cy="131.0" r="2.8"/><circle cx="616.9" cy="147.9" r="2.8"/><circle cx="612.9" cy="152.5" r="2.8"/><circle cx="619.0" cy="154.1" r="2.8"/><circle cx="623.6" cy="157.6" r="2.8"/><circle cx="627.3" cy="156.7" r="2.8"/><circle cx="614.0" cy="159.2" r="2.8"/><circle cx="613.7" cy="162.5" r="2.8"/><circle cx="665.8" cy="157.6" r="2.8"/><circle cx="669.9" cy="160.3" r="2.8"/><circle cx="641.4" cy="160.6" r="2.8"/><circle cx="649.5" cy="158.3" r="2.8"/><circle cx="634.0" cy="163.7" r="2.8"/><circle cx="652.6" cy="164.1" r="2.8"/><circle cx="595.2" cy="96.8" r="2.8"/><circle cx="626.3" cy="96.8" r="2.8"/><circle cx="600.1" cy="112.8" r="2.8"/><circle cx="624.3" cy="120.2" r="2.8"/><circle cx="619.5" cy="127.3" r="2.8"/><circle cx="771.1" cy="101.9" r="2.8"/><circle cx="751.4" cy="99.8" r="2.8"/><circle cx="740.5" cy="110.0" r="2.8"/><circle cx="746.6" cy="108.7" r="2.8"/><circle cx="744.6" cy="115.5" r="2.8"/><circle cx="730.3" cy="120.2" r="2.8"/><circle cx="728.0" cy="125.0" r="2.8"/><circle cx="726.9" cy="103.2" r="2.8"/><circle cx="718.7" cy="99.1" r="2.8"/><circle cx="716.0" cy="102.5" r="2.8"/><circle cx="711.9" cy="106.6" r="2.8"/><circle cx="718.7" cy="106.6" r="2.8"/><circle cx="722.8" cy="105.3" r="2.8"/><circle cx="722.1" cy="112.8" r="2.8"/><circle cx="717.3" cy="116.8" r="2.8"/><circle cx="711.9" cy="116.2" r="2.8"/><circle cx="708.5" cy="120.9" r="2.8"/><circle cx="710.5" cy="125.7" r="2.8"/><circle cx="751.7" cy="139.2" r="2.8"/><circle cx="737.1" cy="142.6" r="2.8"/><circle cx="713.9" cy="139.9" r="2.8"/><circle cx="712.6" cy="154.2" r="2.8"/><circle cx="713.9" cy="159.2" r="2.8"/><circle cx="709.8" cy="129.0" r="2.8"/><circle cx="673.7" cy="157.6" r="2.8"/><circle cx="681.8" cy="160.6" r="2.8"/><circle cx="697.5" cy="161.4" r="2.8"/><circle cx="672.0" cy="161.9" r="2.8"/><circle cx="693.0" cy="165.9" r="2.8"/><circle cx="702.0" cy="165.1" r="2.8"/><circle cx="708.7" cy="167.2" r="2.8"/><circle cx="613.4" cy="165.0" r="2.8"/><circle cx="622.2" cy="169.1" r="2.8"/><circle cx="620.2" cy="172.5" r="2.8"/><circle cx="628.4" cy="174.3" r="2.8"/><circle cx="634.5" cy="166.4" r="2.8"/><circle cx="635.2" cy="169.1" r="2.8"/><circle cx="638.6" cy="170.4" r="2.8"/><circle cx="635.2" cy="173.9" r="2.8"/><circle cx="645.4" cy="172.1" r="2.8"/><circle cx="653.6" cy="168.4" r="2.8"/><circle cx="654.9" cy="171.1" r="2.8"/><circle cx="668.5" cy="167.0" r="2.8"/><circle cx="661.7" cy="177.3" r="2.8"/><circle cx="665.8" cy="176.6" r="2.8"/><circle cx="605.9" cy="182.4" r="2.8"/><circle cx="626.6" cy="185.4" r="2.8"/><circle cx="632.4" cy="182.4" r="2.8"/><circle cx="638.6" cy="183.4" r="2.8"/><circle cx="652.2" cy="182.4" r="2.8"/><circle cx="663.4" cy="183.4" r="2.8"/><circle cx="650.6" cy="189.3" r="2.8"/><circle cx="643.7" cy="194.3" r="2.8"/><circle cx="653.8" cy="197.0" r="2.8"/><circle cx="662.0" cy="199.3" r="2.8"/><circle cx="647.4" cy="201.5" r="2.8"/><circle cx="624.5" cy="203.1" r="2.8"/><circle cx="673.0" cy="165.7" r="2.8"/><circle cx="678.9" cy="173.4" r="2.8"/><circle cx="713.5" cy="177.9" r="2.8"/><circle cx="677.5" cy="181.3" r="2.8"/><circle cx="684.6" cy="183.0" r="2.8"/><circle cx="705.1" cy="181.6" r="2.8"/><circle cx="733.7" cy="194.7" r="2.8"/><circle cx="679.4" cy="200.1" r="2.8"/><circle cx="621.1" cy="205.5" r="2.8"/><circle cx="669.2" cy="208.9" r="2.8"/><circle cx="647.4" cy="219.1" r="2.8"/><circle cx="614.3" cy="229.3" r="2.8"/><circle cx="681.9" cy="205.5" r="2.8"/><circle cx="639.0" cy="111.8" r="2.8"/><circle cx="643.5" cy="113.6" r="2.8"/><circle cx="649.7" cy="116.3" r="2.8"/><circle cx="633.6" cy="118.0" r="2.8"/><circle cx="638.0" cy="117.2" r="2.8"/><circle cx="642.6" cy="120.8" r="2.8"/><circle cx="648.0" cy="121.7" r="2.8"/><circle cx="631.8" cy="125.7" r="2.8"/><circle cx="641.0" cy="124.2" r="2.8"/><circle cx="645.2" cy="126.1" r="2.8"/><circle cx="635.4" cy="131.5" r="2.8"/><circle cx="641.1" cy="130.9" r="2.8"/><circle cx="645.9" cy="131.8" r="2.8"/><circle cx="655.1" cy="111.8" r="2.8"/><circle cx="660.0" cy="112.0" r="2.8"/><circle cx="664.1" cy="111.8" r="2.8"/><circle cx="654.2" cy="116.3" r="2.8"/><circle cx="656.2" cy="122.8" r="2.8"/><circle cx="662.3" cy="121.7" r="2.8"/><circle cx="667.7" cy="120.8" r="2.8"/><circle cx="654.1" cy="126.9" r="2.8"/><circle cx="660.5" cy="127.0" r="2.8"/><circle cx="665.9" cy="126.1" r="2.8"/><circle cx="656.4" cy="132.2" r="2.8"/><circle cx="661.2" cy="132.3" r="2.8"/><circle cx="667.7" cy="131.5" r="2.8"/><circle cx="651.0" cy="123.4" r="2.8"/><circle cx="637.6" cy="92.0" r="2.8"/><circle cx="638.5" cy="98.3" r="2.8"/><circle cx="645.7" cy="97.0" r="2.8"/><circle cx="635.4" cy="102.8" r="2.8"/><circle cx="641.7" cy="103.2" r="2.8"/><circle cx="647.9" cy="102.8" r="2.8"/><circle cx="647.9" cy="106.4" r="2.8"/><circle cx="638.1" cy="108.6" r="2.8"/><circle cx="642.6" cy="110.4" r="2.8"/><circle cx="647.0" cy="89.8" r="2.8"/><circle cx="650.6" cy="92.5" r="2.8"/><circle cx="653.3" cy="96.1" r="2.8"/><circle cx="656.0" cy="90.7" r="2.8"/><circle cx="659.6" cy="93.4" r="2.8"/><circle cx="662.3" cy="89.8" r="2.8"/><circle cx="665.9" cy="91.6" r="2.8"/><circle cx="668.6" cy="95.2" r="2.8"/><circle cx="659.6" cy="97.9" r="2.8"/><circle cx="663.9" cy="97.2" r="2.8"/><circle cx="655.1" cy="103.2" r="2.8"/><circle cx="658.7" cy="102.3" r="2.8"/><circle cx="662.3" cy="101.5" r="2.8"/><circle cx="666.8" cy="100.6" r="2.8"/><circle cx="656.9" cy="108.6" r="2.8"/><circle cx="662.3" cy="105.9" r="2.8"/><circle cx="666.8" cy="105.9" r="2.8"/><circle cx="652.4" cy="110.4" r="2.8"/><circle cx="667.7" cy="110.4" r="2.8"/><circle cx="670.7" cy="91.6" r="2.8"/><circle cx="673.4" cy="95.2" r="2.8"/><circle cx="670.7" cy="99.7" r="2.8"/><circle cx="675.2" cy="99.7" r="2.8"/><circle cx="678.8" cy="98.8" r="2.8"/><circle cx="671.6" cy="105.0" r="2.8"/><circle cx="677.0" cy="104.1" r="2.8"/><circle cx="671.6" cy="110.4" r="2.8"/><circle cx="681.5" cy="88.9" r="2.8"/><circle cx="684.1" cy="92.5" r="2.8"/><circle cx="687.7" cy="93.4" r="2.8"/><circle cx="689.5" cy="97.0" r="2.8"/><circle cx="693.1" cy="97.9" r="2.8"/><circle cx="694.0" cy="93.4" r="2.8"/><circle cx="697.6" cy="90.7" r="2.8"/><circle cx="702.1" cy="89.8" r="2.8"/><circle cx="705.7" cy="91.6" r="2.8"/><circle cx="705.7" cy="97.9" r="2.8"/><circle cx="703.9" cy="102.3" r="2.8"/><circle cx="705.7" cy="105.9" r="2.8"/><circle cx="685.9" cy="105.9" r="2.8"/><circle cx="686.8" cy="109.5" r="2.8"/><circle cx="694.0" cy="105.9" r="2.8"/><circle cx="697.6" cy="105.0" r="2.8"/><circle cx="699.4" cy="109.5" r="2.8"/><circle cx="691.3" cy="88.9" r="2.8"/><circle cx="638.9" cy="134.6" r="2.8"/><circle cx="643.8" cy="135.8" r="2.8"/><circle cx="648.3" cy="134.8" r="2.8"/><circle cx="637.2" cy="140.1" r="2.8"/><circle cx="642.0" cy="141.2" r="2.8"/><circle cx="648.0" cy="140.1" r="2.8"/><circle cx="653.3" cy="140.1" r="2.8"/><circle cx="636.0" cy="144.9" r="2.8"/><circle cx="641.7" cy="144.6" r="2.8"/><circle cx="650.6" cy="143.7" r="2.8"/><circle cx="656.0" cy="143.7" r="2.8"/><circle cx="660.3" cy="142.9" r="2.8"/><circle cx="665.0" cy="143.7" r="2.8"/><circle cx="657.8" cy="147.2" r="2.8"/><circle cx="662.3" cy="148.1" r="2.8"/><circle cx="634.8" cy="151.2" r="2.8"/><circle cx="640.8" cy="149.9" r="2.8"/><circle cx="646.0" cy="152.1" r="2.8"/><circle cx="650.4" cy="152.3" r="2.8"/><circle cx="655.9" cy="151.6" r="2.8"/><circle cx="661.4" cy="152.6" r="2.8"/><circle cx="665.9" cy="149.9" r="2.8"/><circle cx="635.4" cy="155.3" r="2.8"/><circle cx="644.3" cy="156.2" r="2.8"/><circle cx="654.2" cy="155.8" r="2.8"/><circle cx="659.6" cy="156.2" r="2.8"/><circle cx="630.5" cy="146.8" r="2.8"/><circle cx="665.9" cy="133.8" r="2.8"/><circle cx="659.6" cy="133.8" r="2.8"/><circle cx="669.6" cy="134.7" r="2.8"/><circle cx="677.0" cy="132.9" r="2.8"/><circle cx="682.8" cy="132.8" r="2.8"/><circle cx="670.4" cy="137.8" r="2.8"/><circle cx="676.7" cy="138.9" r="2.8"/><circle cx="681.5" cy="140.1" r="2.8"/><circle cx="692.2" cy="137.4" r="2.8"/><circle cx="703.0" cy="137.3" r="2.8"/><circle cx="702.1" cy="132.9" r="2.8"/><circle cx="699.8" cy="144.4" r="2.8"/><circle cx="703.9" cy="144.1" r="2.8"/><circle cx="677.0" cy="143.7" r="2.8"/><circle cx="685.0" cy="144.6" r="2.8"/><circle cx="689.1" cy="144.9" r="2.8"/><circle cx="691.9" cy="146.1" r="2.8"/><circle cx="671.6" cy="147.6" r="2.8"/><circle cx="676.1" cy="149.0" r="2.8"/><circle cx="679.7" cy="148.1" r="2.8"/><circle cx="686.3" cy="149.2" r="2.8"/><circle cx="695.8" cy="149.9" r="2.8"/><circle cx="688.0" cy="153.9" r="2.8"/><circle cx="673.4" cy="153.5" r="2.8"/><circle cx="677.6" cy="154.4" r="2.8"/><circle cx="689.5" cy="156.2" r="2.8"/><circle cx="676.2" cy="113.4" r="2.8"/><circle cx="681.5" cy="112.7" r="2.8"/><circle cx="685.8" cy="112.9" r="2.8"/><circle cx="690.6" cy="113.3" r="2.8"/><circle cx="694.5" cy="112.4" r="2.8"/><circle cx="700.0" cy="112.9" r="2.8"/><circle cx="704.5" cy="112.4" r="2.8"/><circle cx="674.1" cy="117.3" r="2.8"/><circle cx="678.5" cy="117.5" r="2.8"/><circle cx="683.9" cy="116.4" r="2.8"/><circle cx="687.4" cy="117.0" r="2.8"/><circle cx="693.1" cy="116.9" r="2.8"/><circle cx="696.9" cy="116.9" r="2.8"/><circle cx="701.2" cy="116.7" r="2.8"/><circle cx="671.9" cy="121.0" r="2.8"/><circle cx="676.3" cy="120.7" r="2.8"/><circle cx="680.9" cy="121.0" r="2.8"/><circle cx="685.5" cy="120.4" r="2.8"/><circle cx="690.8" cy="121.1" r="2.8"/><circle cx="695.2" cy="120.6" r="2.8"/><circle cx="700.2" cy="121.4" r="2.8"/><circle cx="673.7" cy="124.8" r="2.8"/><circle cx="679.1" cy="125.3" r="2.8"/><circle cx="683.9" cy="124.9" r="2.8"/><circle cx="688.4" cy="125.2" r="2.8"/><circle cx="692.4" cy="125.1" r="2.8"/><circle cx="697.7" cy="125.4" r="2.8"/><circle cx="701.8" cy="125.1" r="2.8"/><circle cx="671.4" cy="128.7" r="2.8"/><circle cx="677.0" cy="128.9" r="2.8"/><circle cx="680.8" cy="129.1" r="2.8"/><circle cx="686.0" cy="129.2" r="2.8"/><circle cx="690.2" cy="128.9" r="2.8"/><circle cx="695.0" cy="129.3" r="2.8"/><circle cx="699.6" cy="128.9" r="2.8"/><circle cx="704.2" cy="128.4" r="2.8"/><circle cx="673.7" cy="133.2" r="2.8"/><circle cx="679.4" cy="133.1" r="2.8"/><circle cx="688.0" cy="133.6" r="2.8"/><circle cx="639.5" cy="119.5" r="2.8"/><circle cx="643.3" cy="118.5" r="2.8"/><circle cx="649.0" cy="119.3" r="2.8"/><circle cx="653.6" cy="118.8" r="2.8"/><circle cx="658.3" cy="119.1" r="2.8"/><circle cx="663.1" cy="118.6" r="2.8"/><circle cx="646.3" cy="123.8" r="2.8"/><circle cx="659.8" cy="122.6" r="2.8"/><circle cx="639.0" cy="127.2" r="2.8"/><circle cx="643.7" cy="127.9" r="2.8"/><circle cx="648.6" cy="127.5" r="2.8"/><circle cx="658.0" cy="127.0" r="2.8"/><circle cx="663.0" cy="128.0" r="2.8"/><circle cx="651.1" cy="132.1" r="2.8"/><circle cx="653.4" cy="136.3" r="2.8"/><circle cx="645.8" cy="144.3" r="2.8"/><circle cx="638.6" cy="154.4" r="2.8"/><circle cx="660.1" cy="154.4" r="2.8"/><circle cx="665.8" cy="155.8" r="2.8"/><circle cx="671.6" cy="152.9" r="2.8"/><circle cx="654.4" cy="144.3" r="2.8"/><circle cx="664.4" cy="147.2" r="2.8"/><circle cx="674.4" cy="142.9" r="2.8"/><circle cx="680.2" cy="145.8" r="2.8"/><circle cx="665.8" cy="161.5" r="2.8"/><circle cx="647.2" cy="158.7" r="2.8"/><circle cx="653.0" cy="157.2" r="2.8"/><circle cx="657.2" cy="138.6" r="2.8"/><circle cx="663.0" cy="135.7" r="2.8"/><circle cx="650.1" cy="135.7" r="2.8"/><circle cx="642.9" cy="134.3" r="2.8"/><circle cx="624.3" cy="155.8" r="2.8"/><circle cx="691.6" cy="135.7" r="2.8"/><circle cx="660.0" cy="88.0" r="2.8"/><circle cx="666.0" cy="86.5" r="2.8"/><circle cx="676.5" cy="93.0" r="2.8"/><circle cx="670.0" cy="102.0" r="2.8"/><circle cx="677.0" cy="107.5" r="2.8"/><circle cx="660.0" cy="106.0" r="2.8"/><circle cx="656.0" cy="100.0" r="2.8"/></g>
<rect x="565.2" y="20.9" width="211.0" height="2.2" fill="#aaa"/>
<rect x="565.2" y="21.2" width="1.0" height="212.4" fill="#eee"/>
<path d="M563.9 20.3 H777.2" fill="none" stroke="#333" stroke-width="1.2"/>
<path d="M777.0 19.7 V234.4" fill="none" stroke="#333" stroke-width="1.6"/>
<path d="M564.5 20.5 V212.6" fill="none" stroke="#333" stroke-width="1.4"/>
<path d="M564.5 219.4 V234.4" fill="none" stroke="#333" stroke-width="1.4"/>
<path d="M557.8 217.8 L570.7 209.3 M557.8 223.8 L570.7 214.9" fill="none" stroke="#333" stroke-width="1.3"/>
<path d="M563.8 234.4 H777.7" fill="none" stroke="#333" stroke-width="1.5"/>
<path d="M558.5 50.5 H564.5" stroke="#333" stroke-width="1.3"/>
<text transform="translate(556.6,54.7) scale(0.87,1)" font-size="12" text-anchor="end">10</text>
<path d="M558.5 79.0 H564.5" stroke="#333" stroke-width="1.3"/>
<text transform="translate(556.6,83.2) scale(0.87,1)" font-size="12" text-anchor="end">9.5</text>
<path d="M558.5 107.5 H564.5" stroke="#333" stroke-width="1.3"/>
<text transform="translate(556.6,111.7) scale(0.87,1)" font-size="12" text-anchor="end">9</text>
<path d="M558.5 135.9 H564.5" stroke="#333" stroke-width="1.3"/>
<text transform="translate(556.6,140.1) scale(0.87,1)" font-size="12" text-anchor="end">8.5</text>
<path d="M558.5 164.4 H564.5" stroke="#333" stroke-width="1.3"/>
<text transform="translate(556.6,168.6) scale(0.87,1)" font-size="12" text-anchor="end">8</text>
<path d="M558.5 192.9 H564.5" stroke="#333" stroke-width="1.3"/>
<text transform="translate(556.6,197.1) scale(0.87,1)" font-size="12" text-anchor="end">7.5</text>
<path d="M566.6 234.4 V241.9" stroke="#333" stroke-width="1.3"/>
<text transform="translate(566.6,252.0) scale(0.87,1)" font-size="12" text-anchor="middle">0</text>
<path d="M598.2 234.4 V241.9" stroke="#333" stroke-width="1.3"/>
<text transform="translate(598.2,252.0) scale(0.87,1)" font-size="12" text-anchor="middle">5</text>
<path d="M631.3 234.4 V241.9" stroke="#333" stroke-width="1.3"/>
<text transform="translate(631.3,252.0) scale(0.87,1)" font-size="12" text-anchor="middle">10</text>
<path d="M663.5 234.4 V241.9" stroke="#333" stroke-width="1.3"/>
<text transform="translate(663.5,252.0) scale(0.87,1)" font-size="12" text-anchor="middle">15</text>
<path d="M696.3 234.4 V241.9" stroke="#333" stroke-width="1.3"/>
<text transform="translate(696.3,252.0) scale(0.87,1)" font-size="12" text-anchor="middle">20</text>
<path d="M728.3 234.4 V241.9" stroke="#333" stroke-width="1.3"/>
<text transform="translate(728.3,252.0) scale(0.87,1)" font-size="12" text-anchor="middle">25</text>
<path d="M761.2 234.4 V241.9" stroke="#333" stroke-width="1.3"/>
<text transform="translate(761.2,252.0) scale(0.87,1)" font-size="12" text-anchor="middle">30</text>
<text x="670.8" y="273.8" font-size="13.2" text-anchor="middle">Plt (10<tspan dy="-4" font-size="8">4</tspan><tspan dy="4">/μl)</tspan></text>
<text x="707.2" y="213.3" font-size="13">ρ = 0.3131</text>
<text x="707.2" y="228.6" font-size="13">p &lt;0.001</text>
<text transform="translate(11.1,127.8) rotate(-90)" font-size="13" text-anchor="middle">log(CPT)</text>
</svg></body></html>
